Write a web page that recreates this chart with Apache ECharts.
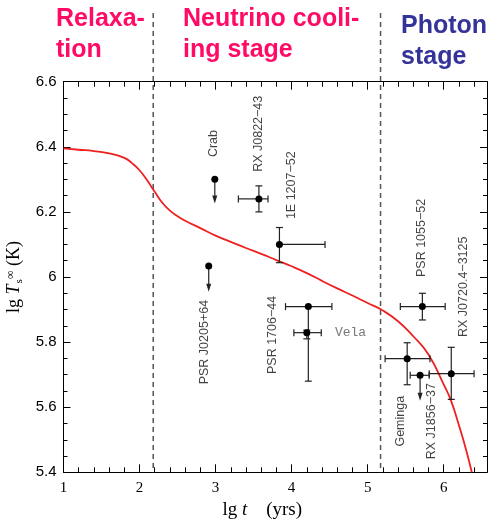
<!DOCTYPE html>
<html>
<head>
<meta charset="utf-8">
<script src="https://cdn.jsdelivr.net/npm/echarts@6/dist/echarts.min.js"></script>
<style>
  html, body { margin: 0; padding: 0; background: #fff; }
  #chart { width: 491px; height: 519px; }
</style>
</head>
<body>
<div id="chart"></div>
<script>
// cooling curve (lg t, lg Ts)
var curveX = [1.0, 1.2, 1.4, 1.6, 1.8, 1.9, 2.0, 2.1, 2.2, 2.3, 2.4, 2.5, 2.6, 2.8, 3.0, 3.2, 3.4, 3.6, 3.8, 4.0, 4.2, 4.4, 4.6, 4.8, 5.0, 5.2, 5.4, 5.6, 5.8, 6.0, 6.1, 6.2, 6.3, 6.37];
var curveY = [6.395, 6.391, 6.387, 6.380, 6.366, 6.350, 6.328, 6.297, 6.262, 6.228, 6.204, 6.187, 6.173, 6.150, 6.127, 6.108, 6.089, 6.071, 6.052, 6.033, 6.012, 5.988, 5.965, 5.943, 5.920, 5.897, 5.864, 5.818, 5.762, 5.670, 5.618, 5.545, 5.465, 5.40];

// observed sources; error = same as value means no bar, limTo = 0 means no upper-limit arrow
var srcNames = ['Crab', 'RX J0822−43', '1E 1207−52', 'PSR J0205+64', 'PSR 1706−44', 'Vela', 'PSR 1055−52', 'Geminga', 'RX J1856−37', 'RX J0720.4−3125'];
var srcX   = [2.99, 3.57, 3.84, 2.91, 4.22, 4.20, 5.72, 5.52, 5.69, 6.10];
var srcY   = [6.30, 6.24, 6.10, 6.034, 5.909, 5.829, 5.909, 5.749, 5.698, 5.703];
var srcXLo = [2.99, 3.30, 3.84, 2.91, 3.92, 4.03, 5.43, 5.23, 5.56, 5.81];
var srcXHi = [2.99, 3.69, 4.44, 2.91, 4.53, 4.39, 6.02, 5.82, 5.81, 6.40];
var srcYLo = [6.30, 6.20, 6.044, 6.034, 5.68, 5.81, 5.868, 5.669, 5.698, 5.624];
var srcYHi = [6.30, 6.28, 6.152, 6.034, 5.909, 5.837, 5.95, 5.798, 5.698, 5.784];
var srcLim = [6.226, 0, 0, 5.955, 0, 0, 0, 0, 5.62, 0];

// where the source names sit (centre of text)
var labX   = [2.97, 3.56, 4.00, 2.86, 3.75, 4.57, 5.71, 5.43, 5.835, 6.26];
var labY   = [6.41, 6.44, 6.282, 5.80, 5.822, 5.828, 6.12, 5.557, 5.557, 5.97];

// stage borders
var phaseX = [2.18, 5.17];

var chart = echarts.init(document.getElementById('chart'));

function renderErr(params, api) {
  var x = api.value(0), y = api.value(1);
  var c = api.coord([x, y]);
  var st = { stroke: '#222', lineWidth: 1.2 };
  var cap = 3.5;
  var kids = [];
  function ln(x1, y1, x2, y2) {
    kids.push({ type: 'line', shape: { x1: x1, y1: y1, x2: x2, y2: y2 }, style: st });
  }
  var xl = api.coord([api.value(2), y])[0];
  var xh = api.coord([api.value(3), y])[0];
  if (xh - xl > 0.5) {
    ln(xl, c[1], xh, c[1]);
    if (c[0] - xl > 0.5) ln(xl, c[1] - cap, xl, c[1] + cap);
    if (xh - c[0] > 0.5) ln(xh, c[1] - cap, xh, c[1] + cap);
  }
  var yl = api.coord([x, api.value(4)])[1];
  var yh = api.coord([x, api.value(5)])[1];
  if (yl - yh > 0.5) {
    ln(c[0], yl, c[0], yh);
    if (yl - c[1] > 0.5) ln(c[0] - cap, yl, c[0] + cap, yl);
    if (c[1] - yh > 0.5) ln(c[0] - cap, yh, c[0] + cap, yh);
  }
  var lim = api.value(6);
  if (lim) {
    var t = api.coord([x, lim])[1];
    ln(c[0], c[1], c[0], t - 6);
    kids.push({ type: 'polygon', shape: { points: [[c[0] - 2.5, t - 8], [c[0] + 2.5, t - 8], [c[0], t]] }, style: { fill: '#222' } });
  }
  kids.push({ type: 'circle', shape: { cx: c[0], cy: c[1], r: 3.5 }, style: { fill: '#000' } });
  return { type: 'group', children: kids };
}

var errData = srcNames.map(function (n, i) {
  return [srcX[i], srcY[i], srcXLo[i], srcXHi[i], srcYLo[i], srcYHi[i], srcLim[i]];
});

var labData = srcNames.map(function (n, i) {
  var vela = n === 'Vela';
  return {
    name: n,
    value: [labX[i], labY[i]],
    label: vela ? {
      rotate: 0, align: 'left', fontFamily: 'Liberation Mono', fontSize: 13, color: '#555'
    } : {}
  };
});

var option = {
  animation: false,
  grid: { left: 63.5, right: 4, top: 81.7, bottom: 46.7, containLabel: false, outerBoundsMode: 'none' },
  xAxis: [{
    type: 'value', min: 1, max: 6.57, interval: 1, position: 'bottom',
    name: '{a|lg }{i|t}{a|    (yrs)}', nameLocation: 'middle', nameGap: 25,
    nameTextStyle: {
      padding: [0, 26, 0, 0],
      rich: {
        a: { fontFamily: 'Liberation Serif', fontSize: 19, color: '#000' },
        i: { fontFamily: 'Liberation Serif', fontStyle: 'italic', fontSize: 19, color: '#000' }
      }
    },
    axisLine: { lineStyle: { color: '#000', width: 1 } },
    axisTick: { inside: true, length: 8, lineStyle: { color: '#000' } },
    minorTick: { show: true, splitNumber: 5, length: 5, lineStyle: { color: '#000' } },
    splitLine: { show: false },
    axisLabel: {
      margin: 8, fontFamily: 'Liberation Serif', fontSize: 15, color: '#000', showMaxLabel: false,
      formatter: function (v) { return Math.abs(v - Math.round(v)) < 1e-6 ? String(Math.round(v)) : ''; }
    }
  }, {
    type: 'value', min: 1, max: 6.57, interval: 1, position: 'top',
    axisLine: { lineStyle: { color: '#000', width: 1 } },
    axisTick: { inside: true, length: 8, lineStyle: { color: '#000' } },
    minorTick: { show: true, splitNumber: 5, length: 5, lineStyle: { color: '#000' } },
    splitLine: { show: false },
    axisLabel: { show: false }
  }],
  yAxis: [{
    type: 'value', min: 5.4, max: 6.6, interval: 0.2, position: 'left',
    name: '{a|lg }{i|T}{sub|s}{sup|∞}{a| (K)}', nameLocation: 'middle', nameGap: 37,
    nameTextStyle: {
      rich: {
        a: { fontFamily: 'Liberation Serif', fontSize: 18, color: '#000' },
        i: { fontFamily: 'Liberation Serif', fontStyle: 'italic', fontSize: 18, color: '#000' },
        sub: { fontFamily: 'Liberation Serif', fontSize: 11, color: '#000', verticalAlign: 'bottom', padding: [8, 0, 0, 1] },
        sup: { fontFamily: 'Liberation Serif', fontSize: 12, color: '#000', verticalAlign: 'top', padding: [0, 0, 8, 0] }
      }
    },
    axisLine: { lineStyle: { color: '#000', width: 1 } },
    axisTick: { inside: true, length: 7, lineStyle: { color: '#000' } },
    minorTick: { show: true, splitNumber: 4, length: 4, lineStyle: { color: '#000' } },
    splitLine: { show: false },
    axisLabel: { margin: 7, fontFamily: 'Liberation Sans', fontSize: 15, color: '#000' }
  }, {
    type: 'value', min: 5.4, max: 6.6, interval: 0.2, position: 'right',
    axisLine: { lineStyle: { color: '#000', width: 1 } },
    axisTick: { inside: true, length: 7, lineStyle: { color: '#000' } },
    minorTick: { show: true, splitNumber: 4, length: 4, lineStyle: { color: '#000' } },
    splitLine: { show: false },
    axisLabel: { show: false }
  }],
  series: [{
    type: 'line', name: 'curve', smooth: true, showSymbol: false,
    data: curveX.map(function (x, i) { return [x, curveY[i]]; }),
    lineStyle: { color: '#ee2020', width: 1.8 },
    z: 3
  }, {
    type: 'custom', name: 'obs', renderItem: renderErr,
    encode: { x: 0, y: 1 }, data: errData, z: 4
  }, {
    type: 'scatter', name: 'names', symbolSize: 0, data: labData, z: 5,
    label: {
      show: true, position: 'inside', rotate: 90, formatter: '{b}',
      fontFamily: 'Liberation Sans', fontSize: 12.5, color: '#111'
    }
  }]
};
chart.setOption(option);

// stage separators and titles
var yBot = chart.convertToPixel({ yAxisIndex: 0 }, 5.4);
var g = phaseX.map(function (v) {
  var px = chart.convertToPixel({ xAxisIndex: 0 }, v);
  return {
    type: 'line', shape: { x1: px, y1: 13, x2: px, y2: yBot },
    style: { stroke: '#555', lineWidth: 1.5, lineDash: [5, 4] }, z: 1
  };
});
function title(txt, x, y, color) {
  return {
    type: 'text', x: x, y: y, z: 10,
    style: { text: txt, fill: color, fontFamily: 'Liberation Sans', fontWeight: 'bold', fontSize: 25, lineHeight: 31, verticalAlign: 'top' }
  };
}
g.push(title('Relaxa-\ntion', 56, 4, '#ff0a66'));
g.push(title('Neutrino cooli-\ning stage', 183, 4, '#ff0a66'));
g.push(title('Photon\nstage', 401, 11, '#333399'));
chart.setOption({ graphic: g });
</script>
</body>
</html>
